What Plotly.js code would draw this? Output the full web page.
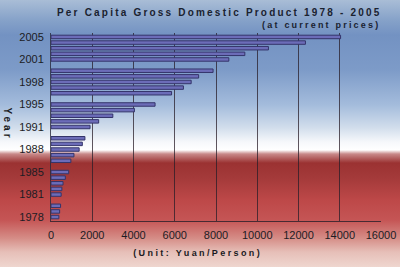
<!DOCTYPE html>
<html>
<head>
<meta charset="utf-8">
<script src="https://cdn.plot.ly/plotly-3.0.1.min.js"></script>
<style>
  html, body { margin:0; padding:0; width:400px; height:267px; overflow:hidden; }
  body {
    background: linear-gradient(to bottom,
      #a9bdd6 0px, #86a2c9 20px, #7392c2 35px, #7d9bc8 70px, #a4bcdc 105px,
      #d2deec 128px, #f6f8fb 142px, #ffffff 150px, #c88888 154px,
      #9b3232 163px, #a43a3a 178px, #bd4848 200px, #c55555 220px,
      #d58c86 238px, #e6bfb8 252px, #efd6cf 267px);
  }
  #chart { width:400px; height:267px; }
  .gtitle { letter-spacing: 2.2px; }
  .annotation-text.sp1 { letter-spacing: 2.2px; }
  .annotation-text.sp2 { letter-spacing: 2.4px; }
  .annotation-text.sp3 { letter-spacing: 3px; }
</style>
</head>
<body>
<div id="chart"></div>
<script>
// Data: per capita GDP (yuan/person, current prices)
const years = [1978,1979,1980,1981,1982,1983,1984,1985,1986,1987,1988,1989,1990,
               1991,1992,1993,1994,1995,1996,1997,1998,1999,2000,2001,2002,2003,2004,2005];
const gdpPerCapita = [381,419,463,492,528,583,695,858,963,1112,1366,1519,1644,
                      1893,2311,2998,4044,5046,5846,6420,6796,7159,7858,8622,9398,10542,12336,14040];
const yearTickLabels = [1978,1981,1985,1988,1991,1995,1998,2001,2005];
const xTicks = [0,2000,4000,6000,8000,10000,12000,14000,16000];

// bars are grouped in fives (1981-85, 1986-90, ...) with a gap between groups
function slot(y){ return (y-1978) + Math.floor((y-1976)/5); }

const trace = {
  type:'bar', orientation:'h',
  x: gdpPerCapita,
  y: years.map(slot),
  width: 0.62,
  marker:{ color:'#6c6cb8', line:{ color:'#34346a', width:1 } },
  hoverinfo:'none'
};

const layout = {
  width:400, height:267,
  margin:{l:51, r:19, t:33, b:46},
  paper_bgcolor:'rgba(0,0,0,0)',
  plot_bgcolor:'rgba(0,0,0,0)',
  font:{family:'"Liberation Sans", Arial, sans-serif', color:'#1c1c24', size:11},
  showlegend:false,
  title:{
    text:'<b>Per Capita Gross Domestic Product 1978 - 2005</b>',
    font:{size:10, color:'#1a2230', family:'"Liberation Sans", Arial, sans-serif'},
    x:0.51, xanchor:'center', y:0.955, yanchor:'middle', xref:'paper', yref:'container'
  },
  xaxis:{
    range:[0,16000], tickvals:xTicks, ticktext:xTicks.map(String),
    showgrid:true, gridcolor:'rgba(40,30,40,0.75)', gridwidth:1,
    zeroline:false, showline:true, linecolor:'rgba(40,30,40,0.8)', linewidth:1,
    ticks:'', ticklen:0, ticklabelstandoff:4, tickfont:{size:11, color:'#1c1c24'},
    fixedrange:true
  },
  yaxis:{
    range:[-0.7, 32.7], tickvals:yearTickLabels.map(slot), ticktext:yearTickLabels.map(String),
    showgrid:false, zeroline:false, showline:true, linecolor:'rgba(40,40,60,0.8)', linewidth:1,
    ticks:'', ticklabelstandoff:4, tickfont:{size:11, color:'#1c1c24'}, fixedrange:true
  },
  annotations:[
    {text:'<b>(at current prices)</b>', xref:'paper', yref:'paper', x:0.821, y:1.045,
     xanchor:'center', yanchor:'middle', showarrow:false, font:{size:9, color:'#1a2230'}},
    {text:'<b>(Unit: Yuan/Person)</b>', xref:'paper', yref:'paper', x:0.444, y:-0.17,
     xanchor:'center', yanchor:'middle', showarrow:false, font:{size:9, color:'#1a1a22'}},
    {text:'<b>Year</b>', xref:'paper', yref:'paper', x:-0.131, y:0.515, textangle:90,
     xanchor:'center', yanchor:'middle', showarrow:false, font:{size:10, color:'#1a1a22'}}
  ]
};

Plotly.newPlot('chart',[trace],layout,{staticPlot:true, displayModeBar:false}).then(function(){
  const t = document.querySelectorAll('.annotation-text');
  if (t[0]) t[0].classList.add('sp1');
  if (t[1]) t[1].classList.add('sp2');
  if (t[2]) t[2].classList.add('sp3');
});
</script>
</body>
</html>
